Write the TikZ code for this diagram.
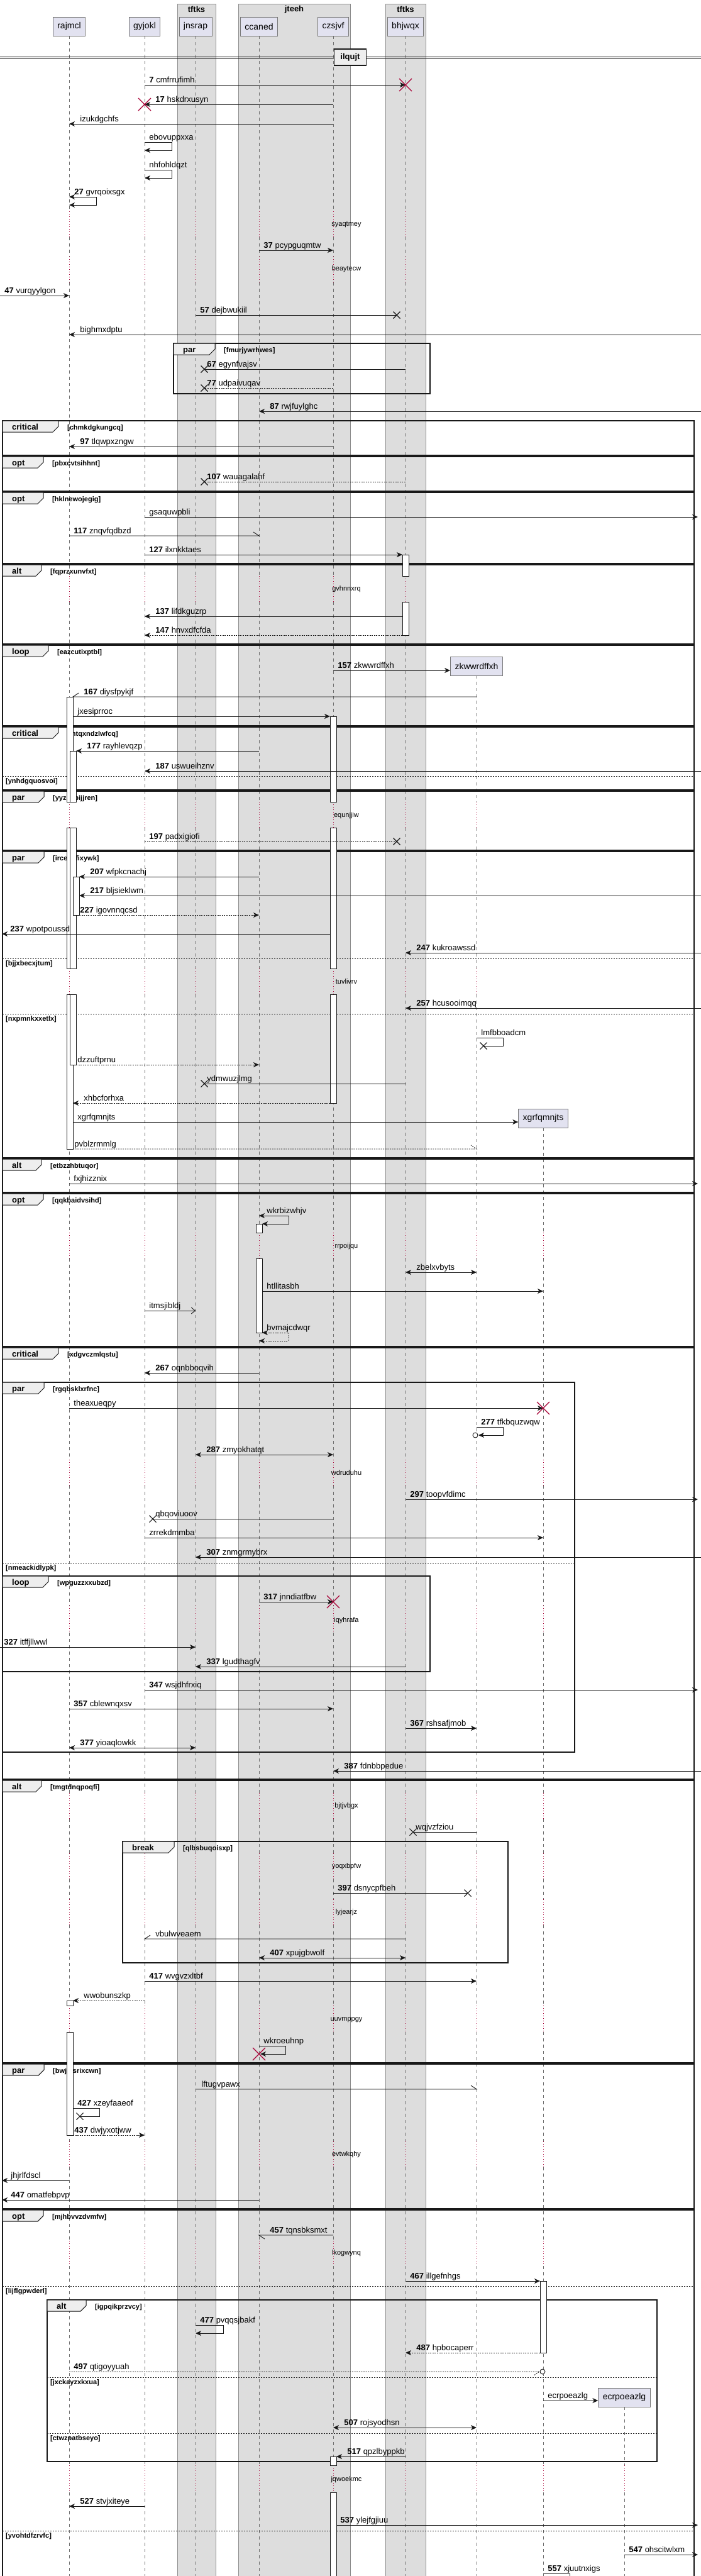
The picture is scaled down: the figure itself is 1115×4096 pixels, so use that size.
\documentclass[tikz,border=0pt]{standalone}
\usepackage{fontspec}
\setmainfont{Liberation Sans}
\usetikzlibrary{arrows.meta,calc}
\newcommand\fs[1]{\fontsize{#1}{#1}\selectfont}
\newcommand\mn[1]{\textbf{#1}\ }
\definecolor{crim}{RGB}{168,0,54}
\definecolor{partfill}{RGB}{226,226,240}
\definecolor{partline}{RGB}{120,120,120}
\definecolor{grpfill}{RGB}{221,221,221}
\definecolor{tabfill}{RGB}{238,238,238}
\definecolor{ink}{RGB}{24,24,24}
\definecolor{lifec}{RGB}{110,110,110}
\tikzset{
 msg/.style={draw=ink, line width=0.9pt, -{Stealth[length=9pt,width=8pt,inset=2.5pt]}},
 dotl/.style={dash pattern=on 2pt off 1.6pt},
 ret/.style={msg, dotl},
 bidi/.style={draw=ink, line width=0.9pt, {Stealth[length=9pt,width=8pt,inset=2.5pt]}-{Stealth[length=9pt,width=8pt,inset=2.5pt]}},
 plain/.style={draw=ink, line width=0.9pt},
 openarr/.style={draw=ink, line width=0.9pt, -{Straight Barb[length=6pt,width=10pt]}},
 lbl/.style={anchor=base west, inner sep=0pt, font=\fs{13}, yshift=4pt},
 lr/.style={lbl, pos=0, xshift=7pt},
 ll/.style={lbl, pos=1, xshift=17pt},
 llx/.style={lbl, pos=1, xshift=4pt},
 lbi/.style={lbl, pos=0, xshift=17pt},
 part/.style={draw=partline, fill=partfill, line width=0.8pt, font=\fs{14}, minimum height=30pt, inner xsep=7pt, inner ysep=0pt},
 grp/.style={fill=grpfill, draw=black!45, line width=0.5pt},
 grptitle/.style={font=\bfseries\fs{13}, inner sep=0pt},
 life/.style={draw=lifec, line width=0.7pt, dash pattern=on 5pt off 5pt},
 delayl/.style={draw=crim, line width=0.8pt, dash pattern=on 1pt off 3pt},
 delaytxt/.style={font=\fs{11}, inner sep=0pt},
 frm/.style={draw=ink, line width=1.5pt},
 tab/.style={draw=ink, fill=tabfill, line width=1pt},
 kindtxt/.style={anchor=base west, font=\bfseries\fs{13}, inner sep=0pt},
 condtxt/.style={anchor=base west, font=\bfseries\fs{11}, inner sep=0pt},
 sepl/.style={draw=ink, line width=1pt, dash pattern=on 2pt off 2pt},
 actbox/.style={draw=ink, fill=white, line width=0.8pt},
 lostx/.pic={\draw[ink, line width=1.1pt, solid, arrows=-] (-5.5,-5.5) -- (5.5,5.5) (-5.5,5.5) -- (5.5,-5.5);},
 destroyx/.pic={\draw[crim, line width=1.3pt, solid, arrows=-] (-10,-10) -- (10,10) (-10,10) -- (10,-10);},
 endcirc/.pic={\draw[ink, line width=0.9pt, solid, fill=white, arrows=-] (0,0) circle (4pt);},
}
\newcommand\sqframe[8]{%
 \draw[frm] (#2,#3) rectangle (#4,#5);
 \filldraw[tab] (#2,#3) -- (#2+#7,#3) -- (#2+#7,#3+9) -- (#2+#7-9,#3+18) -- (#2,#3+18) -- cycle;
 \node[kindtxt] (#1k) at (#2+15,#3+14) {#6};
 \node[condtxt] (#1c) at (#2+#7+14,#3+14) {[#8]};
}
\newcommand\sqsep[5]{%
 \draw[sepl] (#2,#4) -- (#3,#4);
 \node[condtxt] (#1) at (#2+5,#4+11) {[#5]};
}
\begin{document}
\begin{tikzpicture}[x=1pt,y=-1pt]
\useasboundingbox (0,0) rectangle (1115,4096);
\clip (0,0) rectangle (1115,4096);
\fill[white] (0,0) rectangle (1115,4096);
% edges
\coordinate (Lft) at (0,0);
\coordinate (Lft3) at (3,0);
\coordinate (Rgt) at (1115,0);
\coordinate (Rin) at (1110,0);
% group boxes
\draw[grp] (282,6) rectangle (343,4120);
\node[grptitle] (g1) at (312.5,15) {tftks};
\draw[grp] (379,6) rectangle (557,4120);
\node[grptitle] (g2) at (468,15) {jteeh};
\draw[grp] (613,6) rectangle (677,4120);
\node[grptitle] (g3) at (645,15) {tftks};
% participants
\node[part] (rajmcl) at (110,42) {rajmcl};
\node[part] (gyjokl) at (230,42) {gyjokl};
\node[part] (jnsrap) at (311,42) {jnsrap};
\node[part] (ccaned) at (412,42) {ccaned};
\node[part] (czsjvf) at (530,42) {czsjvf};
\node[part] (bhjwqx) at (645,42) {bhjwqx};
\node[part] (zkw) at (758,1059) {zkwwrdffxh};
\node[part] (xgr) at (864,1778) {xgrfqmnjts};
\node[part] (ecr) at (993,3812) {ecrpoeazlg};
% lifelines
\foreach \nm/\tp in {rajmcl/57,gyjokl/57,jnsrap/57,ccaned/57,czsjvf/57,bhjwqx/57,zkw/1074,xgr/1793,ecr/3827}{
  \foreach \ya/\yb in {57/336,377/408,449/916,957/1275,1316/1540,1581/1960,2001/2321,2362/2553,2596/2851,2892/2947,2988/3020,3061/3189,3231/3405,3446/3563,3603/3920,3963/4120}{
    \pgfmathsetmacro\lsA{max(\ya,\tp)}
    \ifdim\lsA pt<\yb pt \draw[life] (\nm |- 0,\lsA) -- (\nm |- 0,\yb);\fi
  }
  \foreach \ya/\yb in {336/377,408/449,916/957,1275/1316,1540/1581,1960/2001,2321/2362,2553/2596,2851/2892,2947/2988,3020/3061,3189/3231,3405/3446,3563/3603,3920/3963}{
    \ifdim\ya pt>\tp pt \draw[delayl] (\nm |- 0,\ya) -- (\nm |- 0,\yb);\fi
  }
}
% delay texts
\foreach \t/\yy [count=\i] in {syaqtmey/357,beaytecw/428,gvhnnxrq/937,equnjjiw/1297,tuvlivrv/1561,rrpoijqu/1982,wdruduhu/2342,iqyhrafa/2577,bjtjvbgx/2872,yoqxbpfw/2968,lyjearjz/3041,uuvmppgy/3212,evtwkqhy/3426,lkogwynq/3583,jqwoekmc/3943}{
  \node[delaytxt] (dl\i) at (551,\yy) {\t};
}
% divider
\draw[ink, line width=1pt] (0,90) -- (1115,90) (0,93) -- (1115,93);
\node[draw=ink, line width=1.3pt, fill=tabfill, font=\bfseries\fs{13}, minimum width=51pt, minimum height=26pt, inner sep=0pt] (ilqujt) at (557,91) {ilqujt};
% frames
\sqframe{fa}{276}{546}{684}{626}{par}{66}{fmurjywrhwes}
\sqframe{fb}{4}{669}{1104}{724}{critical}{89}{chmkdgkungcq}
\sqframe{fc}{4}{726}{1104}{781}{opt}{65}{pbxcvtsihhnt}
\sqframe{fd}{4}{783}{1104}{896}{opt}{65}{hklnewojegig}
\sqframe{fe}{4}{898}{1104}{1024}{alt}{62}{fqprzxunvfxt}
\sqframe{ff}{4}{1026}{1104}{1154}{loop}{73}{eazcutixptbl}
\sqframe{fg}{4}{1156}{1104}{1256}{critical}{89}{mtqxndzlwfcq}
\sqsep{sg1}{4}{1104}{1234}{ynhdgquosvoi}
\sqframe{fh}{4}{1258}{1104}{1352}{par}{66}{yyzkbbijjren}
\sqframe{fi}{4}{1354}{1104}{1841}{par}{66}{ircedkfixywk}
\sqsep{si1}{4}{1104}{1524}{bjjxbecxjtum}
\sqsep{si2}{4}{1104}{1612}{nxpmnkxxetlx}
\sqframe{fj}{4}{1843}{1104}{1896}{alt}{62}{etbzzhbtuqor}
\sqframe{fk}{4}{1898}{1104}{2141}{opt}{65}{qqkbaidvsihd}
\sqframe{fl}{4}{2143}{1104}{2829}{critical}{89}{xdgvczmlqstu}
\sqframe{fm}{4}{2198}{914}{2786}{par}{66}{rgqbsklxrfnc}
\sqsep{sm1}{4}{914}{2485}{nmeackidlypk}
\sqframe{fn}{4}{2506}{684}{2658}{loop}{73}{wpguzzxxubzd}
\sqframe{fo}{4}{2831}{1104}{3280}{alt}{62}{tmgtdnqpoqfi}
\sqframe{fp}{195}{2928}{808}{3121}{break}{82}{qlbsbuqoisxp}
\sqframe{fq}{4}{3282}{1104}{3512}{par}{66}{bwjqjsrixcwn}
\sqframe{fr}{4}{3514}{1104}{4200}{opt}{65}{mjhbvvzdvmfw}
\sqsep{sr1}{4}{1104}{3635}{lijflgpwderl}
\sqsep{sr2}{4}{1104}{4024}{yvohtdfzrvfc}
\sqframe{fs}{75}{3657}{1045}{3914}{alt}{62}{igpqikprzvcy}
\sqsep{ss1}{75}{1045}{3780}{jxckayzxkxua}
\sqsep{ss2}{75}{1045}{3869}{ctwzpatbseyo}
% activations
\foreach \xa/\ya/\yb in {106/1108/1275,106/1316/1540,106/1581/1827,111/1194/1275,111/1316/1540,111/1581/1693,116/1394/1455,525/1139/1275,525/1316/1540,525/1581/1754,640/882/916,640/957/1010,407/1946/1960,407/2001/2119,106/3181/3189,106/3231/3395,859/3627/3741,525/3906/3920,525/3963/4120}{
  \draw[actbox] (\xa,\ya) rectangle (\xa+10,\yb);
}
% messages
\draw[msg] (gyjokl |- 0,135) -- node[lr] (l1) {\mn{7}cmfrrufimh} (bhjwqx |- 0,135);
\path (bhjwqx |- 0,135) pic {destroyx};
\draw[msg] (czsjvf |- 0,166) -- node[ll] (l2) {\mn{17}hskdrxusyn} (gyjokl |- 0,166);
\path (gyjokl |- 0,166) pic {destroyx};
\draw[msg] (czsjvf |- 0,197) -- node[ll] (l3) {izukdgchfs} (rajmcl |- 0,197);
\draw[msg] (gyjokl |- 0,226) -- node[lr] (l4) {ebovuppxxa} ++(43,0) -- ++(0,13) -- (gyjokl |- 0,239);
\draw[msg] (gyjokl |- 0,270) -- node[lr] (l5) {nhfohldqzt} ++(43,0) -- ++(0,13) -- (gyjokl |- 0,283);
\draw[bidi] (rajmcl |- 0,313) -- node[lr, xshift=1pt] (l6) {\mn{27}gvrqoixsgx} ++(43,0) -- ++(0,13) -- (rajmcl |- 0,326);
\draw[msg] (ccaned |- 0,398) -- node[lr] (l7) {\mn{37}pcypguqmtw} (czsjvf |- 0,398);
\draw[msg] (Lft |- 0,470) -- node[lr] (l8) {\mn{47}vurqyylgon} (rajmcl |- 0,470);
\draw[plain] (jnsrap |- 0,501) -- node[lr] (l9) {\mn{57}dejbwukiil} ([xshift=-14pt]bhjwqx |- 0,501) pic {lostx};
\draw[msg] (Rgt |- 0,532) -- node[ll] (l10) {bighmxdptu} (rajmcl |- 0,532);
\draw[plain] (bhjwqx |- 0,587) -- node[llx] (l11) {\mn{67}egynfvajsv} ([xshift=14pt]jnsrap |- 0,587) pic {lostx};
\draw[plain, dotl] (czsjvf |- 0,617) -- node[llx] (l12) {\mn{77}udpaivuqav} ([xshift=14pt]jnsrap |- 0,617) pic {lostx};
\draw[msg] (Rgt |- 0,654) -- node[ll] (l13) {\mn{87}rwjfuylghc} (ccaned |- 0,654);
\draw[msg] (czsjvf |- 0,710) -- node[ll] (l14) {\mn{97}tlqwpxzngw} (rajmcl |- 0,710);
\draw[plain, dotl] (bhjwqx |- 0,766) -- node[llx] (l15) {\mn{107}wauagalahf} ([xshift=14pt]jnsrap |- 0,766) pic {lostx};
\draw[msg] (gyjokl |- 0,822) -- node[lr] (l16) {gsaquwpbli} (Rin |- 0,822);
\draw[plain] (rajmcl |- 0,852) -- node[lr] (l17) {\mn{117}znqvfqdbzd} (ccaned |- 0,852) -- ++(-9,-6);
\draw[msg] (gyjokl |- 0,882) -- node[lr] (l18) {\mn{127}ilxnkktaes} ([xshift=-5pt]bhjwqx |- 0,882);
\draw[msg] ([xshift=-5pt]bhjwqx |- 0,980) -- node[ll] (l19) {\mn{137}lifdkguzrp} (gyjokl |- 0,980);
\draw[ret] ([xshift=-5pt]bhjwqx |- 0,1010) -- node[ll] (l20) {\mn{147}hnvxdfcfda} (gyjokl |- 0,1010);
\draw[msg] (czsjvf |- 0,1066) -- node[lr] (l21) {\mn{157}zkwwrdffxh} (zkw.west |- 0,1066);
\draw[plain] (zkw |- 0,1108) -- node[ll] (l22) {\mn{167}diysfpykjf} ([xshift=6pt]rajmcl |- 0,1108) -- ++(9,-6);
\draw[msg] ([xshift=6pt]rajmcl |- 0,1139) -- node[lr] (l23) {jxesiprroc} ([xshift=-5pt]czsjvf |- 0,1139);
\draw[msg] (ccaned |- 0,1194) -- node[ll] (l24) {\mn{177}rayhlevqzp} ([xshift=11pt]rajmcl |- 0,1194);
\draw[msg] (Rgt |- 0,1226) -- node[ll] (l25) {\mn{187}uswueihznv} (gyjokl |- 0,1226);
\draw[plain, dotl] (gyjokl |- 0,1338) -- node[lr] (l26) {\mn{197}padxigiofi} ([xshift=-14pt]bhjwqx |- 0,1338) pic {lostx};
\draw[msg] (ccaned |- 0,1394) -- node[ll] (l27) {\mn{207}wfpkcnachj} ([xshift=16pt]rajmcl |- 0,1394);
\draw[msg] (Rgt |- 0,1424) -- node[ll] (l28) {\mn{217}bljsieklwm} ([xshift=16pt]rajmcl |- 0,1424);
\draw[ret] ([xshift=16pt]rajmcl |- 0,1455) -- node[lr, xshift=-6pt] (l29) {\mn{227}igovnnqcsd} (ccaned |- 0,1455);
\draw[msg] ([xshift=-5pt]czsjvf |- 0,1485) -- node[ll, xshift=-4pt] (l30) {\mn{237}wpotpoussd} (Lft3 |- 0,1485);
\draw[msg] (Rgt |- 0,1515) -- node[ll] (l31) {\mn{247}kukroawssd} (bhjwqx |- 0,1515);
\draw[msg] (Rgt |- 0,1603) -- node[ll] (l32) {\mn{257}hcusooimqq} (bhjwqx |- 0,1603);
\draw[plain] (zkw |- 0,1650) -- node[lr] (l33) {lmfbboadcm} ++(42,0) -- ++(0,13) -- ([xshift=11pt]zkw |- 0,1663) pic {lostx};
\draw[ret] ([xshift=11pt]rajmcl |- 0,1693) -- node[lr, xshift=-5pt] (l34) {dzzuftprnu} (ccaned |- 0,1693);
\draw[plain] (bhjwqx |- 0,1723) -- node[llx] (l35) {ydmwuzjlmg} ([xshift=14pt]jnsrap |- 0,1723) pic {lostx};
\draw[ret] ([xshift=-5pt]czsjvf |- 0,1754) -- node[ll] (l36) {xhbcforhxa} ([xshift=6pt]rajmcl |- 0,1754);
\draw[msg] ([xshift=6pt]rajmcl |- 0,1784) -- node[lr] (l37) {xgrfqmnjts} (xgr.west |- 0,1784);
\draw[plain, dotl] ([xshift=6pt]rajmcl |- 0,1827) -- node[lr, xshift=-5pt] (l38) {pvblzrmmlg} (zkw |- 0,1827) -- ++(-9,-6);
\draw[msg] (rajmcl |- 0,1882) -- node[lr] (l39) {fxjhizznix} (Rin |- 0,1882);
\draw[bidi] (ccaned |- 0,1933) -- node[lr, xshift=5pt] (l40) {wkrbizwhjv} ++(47,0) -- ++(0,13) -- ([xshift=5pt]ccaned |- 0,1946);
\draw[bidi] (bhjwqx |- 0,2023) -- node[lbi] (l41) {zbelxvbyts} (zkw |- 0,2023);
\draw[msg] ([xshift=5pt]ccaned |- 0,2053) -- node[lr] (l42) {htllitasbh} (xgr |- 0,2053);
\draw[openarr] (gyjokl |- 0,2084) -- node[lr] (l43) {itmsjibldj} (jnsrap |- 0,2084);
\draw[bidi, dotl] ([xshift=5pt]ccaned |- 0,2119) -- node[lr] (l44) {bvmajcdwqr} ++(42,0) -- ++(0,13) -- (ccaned |- 0,2132);
\draw[msg] (ccaned |- 0,2183) -- node[ll] (l45) {\mn{267}oqnbboqvih} (gyjokl |- 0,2183);
\draw[msg] (rajmcl |- 0,2239) -- node[lr] (l46) {theaxueqpy} (xgr |- 0,2239);
\path (xgr |- 0,2239) pic {destroyx};
\draw[msg] (zkw |- 0,2269) -- node[lr] (l47) {\mn{277}tfkbquzwqw} ++(42,0) -- ++(0,13) -- ([xshift=3pt]zkw |- 0,2282);
\path ([xshift=-2pt]zkw |- 0,2282) pic {endcirc};
\draw[bidi] (jnsrap |- 0,2313) -- node[lbi] (l48) {\mn{287}zmyokhatqt} (czsjvf |- 0,2313);
\draw[msg] (bhjwqx |- 0,2384) -- node[lr] (l49) {\mn{297}toopvfdimc} (Rin |- 0,2384);
\draw[plain] (czsjvf |- 0,2415) -- node[llx] (l50) {qbqoviuoov} ([xshift=13pt]gyjokl |- 0,2415) pic {lostx};
\draw[msg] (gyjokl |- 0,2445) -- node[lr] (l51) {zrrekdmmba} (xgr |- 0,2445);
\draw[msg] (Rgt |- 0,2476) -- node[ll] (l52) {\mn{307}znmgrmybrx} (jnsrap |- 0,2476);
\draw[msg] (ccaned |- 0,2547) -- node[lr] (l53) {\mn{317}jnndiatfbw} (czsjvf |- 0,2547);
\path (czsjvf |- 0,2547) pic {destroyx};
\draw[msg] (Lft |- 0,2619) -- node[lr, xshift=-1pt] (l54) {\mn{327}itffjllwwl} (jnsrap |- 0,2619);
\draw[msg] (bhjwqx |- 0,2650) -- node[ll] (l55) {\mn{337}lgudthagfv} (jnsrap |- 0,2650);
\draw[msg] (gyjokl |- 0,2687) -- node[lr] (l56) {\mn{347}wsjdhfrxiq} (Rin |- 0,2687);
\draw[msg] (rajmcl |- 0,2717) -- node[lr] (l57) {\mn{357}cblewnqxsv} (czsjvf |- 0,2717);
\draw[msg] (bhjwqx |- 0,2748) -- node[lr] (l58) {\mn{367}rshsafjmob} (zkw |- 0,2748);
\draw[bidi] (rajmcl |- 0,2779) -- node[lbi] (l59) {\mn{377}yioaqlowkk} (jnsrap |- 0,2779);
\draw[msg] (Rgt |- 0,2816) -- node[ll] (l60) {\mn{387}fdnbbpedue} (czsjvf |- 0,2816);
\draw[plain] (zkw |- 0,2913) -- node[llx] (l61) {wqjvzfziou} ([xshift=12pt]bhjwqx |- 0,2913) pic {lostx};
\draw[plain] (czsjvf |- 0,3010) -- node[lr] (l62) {\mn{397}dsnycpfbeh} ([xshift=-14pt]zkw |- 0,3010) pic {lostx};
\draw[plain] (bhjwqx |- 0,3083) -- node[ll] (l63) {vbulwveaem} (gyjokl |- 0,3083) -- ++(9,-6);
\draw[bidi] (ccaned |- 0,3113) -- node[lbi] (l64) {\mn{407}xpujgbwolf} (bhjwqx |- 0,3113);
\draw[msg] (gyjokl |- 0,3150) -- node[lr] (l65) {\mn{417}wvgvzxltbf} (zkw |- 0,3150);
\draw[ret] (gyjokl |- 0,3181) -- node[ll] (l66) {wwobunszkp} ([xshift=6pt]rajmcl |- 0,3181);
\draw[msg] (ccaned |- 0,3253) -- node[lr] (l67) {wkroeuhnp} ++(42,0) -- ++(0,13) -- ([xshift=2pt]ccaned |- 0,3266);
\path (ccaned |- 0,3266) pic {destroyx};
\draw[plain] (jnsrap |- 0,3322) -- node[lr, xshift=2pt] (l68) {lftugvpawx} (zkw |- 0,3322) -- ++(-9,-6);
\draw[plain] ([xshift=6pt]rajmcl |- 0,3352) -- node[lr] (l69) {\mn{427}xzeyfaaeof} ++(42,0) -- ++(0,13) -- ([xshift=17pt]rajmcl |- 0,3365) pic {lostx};
\draw[ret] ([xshift=6pt]rajmcl |- 0,3395) -- node[lr, xshift=-5pt] (l70) {\mn{437}dwjyxotjww} (gyjokl |- 0,3395);
\draw[msg] (rajmcl |- 0,3467) -- node[ll, xshift=-3pt] (l71) {jhjrlfdscl} (Lft3 |- 0,3467);
\draw[msg] (ccaned |- 0,3498) -- node[ll, xshift=-3pt] (l72) {\mn{447}omatfebpvp} (Lft3 |- 0,3498);
\draw[plain] (czsjvf |- 0,3554) -- node[ll] (l73) {\mn{457}tqnsbksmxt} (ccaned |- 0,3554) -- ++(9,6);
\draw[msg] (bhjwqx |- 0,3627) -- node[lr] (l74) {\mn{467}illgefnhgs} ([xshift=-5pt]xgr |- 0,3627);
\draw[msg] (jnsrap |- 0,3697) -- node[lr] (l75) {\mn{477}pvqqsjbakf} ++(44,0) -- ++(0,13) -- (jnsrap |- 0,3710);
\draw[ret] ([xshift=-5pt]xgr |- 0,3741) -- node[ll] (l76) {\mn{487}hpbocaperr} (bhjwqx |- 0,3741);
\draw[plain, dotl] (rajmcl |- 0,3771) -- node[lr] (l77) {\mn{497}qtigoyyuah} ([xshift=-6pt]xgr |- 0,3771) -- ++(-9,6);
\path ([xshift=-1pt]xgr |- 0,3771) pic {endcirc};
\draw[msg] (xgr |- 0,3817) -- node[lr] (l78) {ecrpoeazlg} (ecr.west |- 0,3817);
\draw[bidi] (czsjvf |- 0,3860) -- node[lbi] (l79) {\mn{507}rojsyodhsn} (zkw |- 0,3860);
\draw[msg] (bhjwqx |- 0,3906) -- node[ll] (l80) {\mn{517}qpzlbyppkb} ([xshift=5pt]czsjvf |- 0,3906);
\draw[msg] (gyjokl |- 0,3985) -- node[ll] (l81) {\mn{527}stvjxiteye} (rajmcl |- 0,3985);
\draw[msg] ([xshift=5pt]czsjvf |- 0,4015) -- node[lr, xshift=-1pt] (l82) {\mn{537}ylejfgjiuu} (Rin |- 0,4015);
\draw[msg] (ecr |- 0,4062) -- node[lr] (l83) {\mn{547}ohscitwlxm} (Rin |- 0,4062);
\draw[msg] (xgr |- 0,4092) -- node[lr] (l84) {\mn{557}xjuutnxigs} ++(42,0) -- ++(0,13) -- (xgr |- 0,4105);
\end{tikzpicture}
\end{document}
